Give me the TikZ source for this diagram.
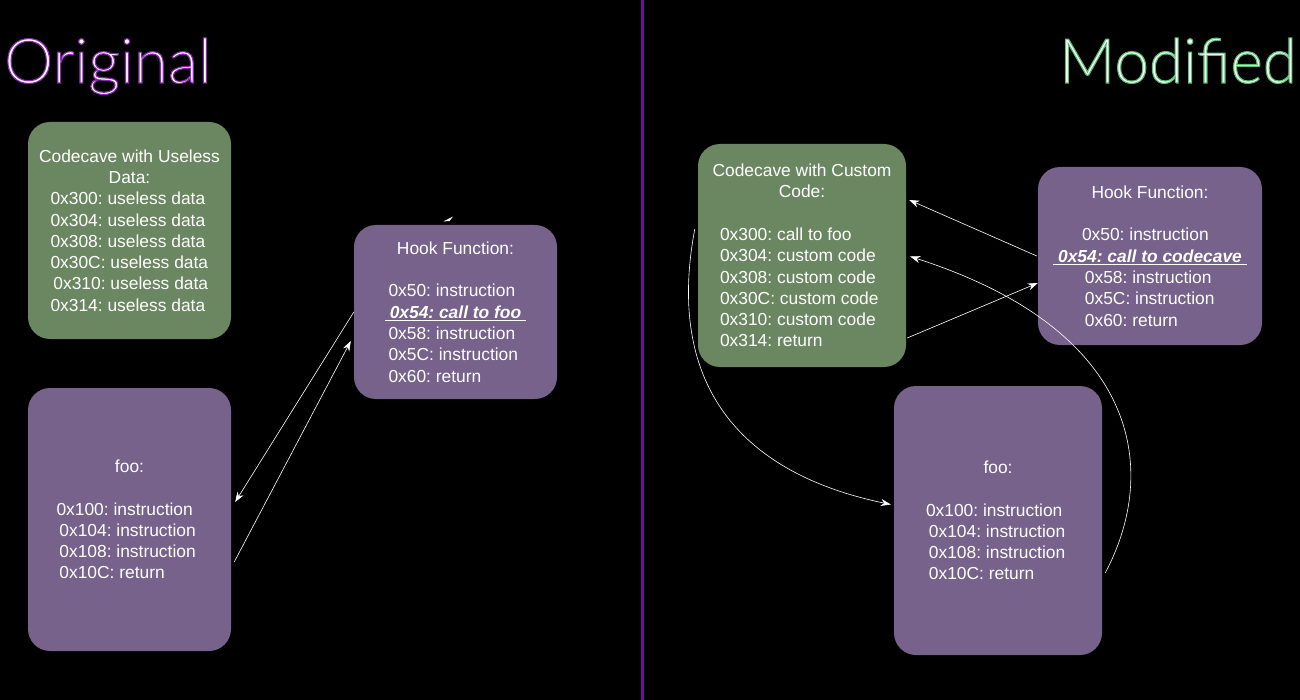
\documentclass[tikz,border=0pt]{standalone}
\usepackage{fontspec}
\setmainfont{Liberation Sans}
\newfontfamily\titlefont{Lato Light}
\usetikzlibrary{arrows.meta,calc}
\definecolor{cavegreen}{RGB}{107,135,98}
\definecolor{fnpurple}{RGB}{118,98,138}
\definecolor{divpurple}{RGB}{108,16,148}
\frenchspacing
\newcommand\Ln[2]{\makebox[#1][l]{#2}}
\newcommand\Hl[1]{\underline{\textbf{\textit{\ #1\ }}}}
\newcommand\outl[2]{\special{pdf:literal direct #1 RG 1.1 w 2 Tr}#2\special{pdf:literal direct 0 Tr}}
\tikzset{
  memblock/.style={rounded corners=22pt, text=white, align=center, inner sep=0pt,
    font=\fontsize{17.4}{21.3}\selectfont},
  cave/.style={memblock, fill=cavegreen},
  func/.style={memblock, fill=fnpurple},
  link/.style={draw=white, line width=0.6pt, -{Stealth[length=10pt,width=7pt]}},
  title/.style={inner sep=0pt, text=white, font=\titlefont\fontsize{62}{62}\selectfont}
}
\begin{document}
\begin{tikzpicture}[x=1pt,y=-1pt]
\fill[black] (0,0) rectangle (1300,700);
\useasboundingbox (0,0) rectangle (1300,700);
\fill[divpurple] (640.5,0) rectangle (643.5,700);

% titles
\node[title, anchor=base west] (t1) at (4,83) {\outl{0.55 0.15 0.7}{Original}};
\node[title, anchor=base east] (t2) at (1297,83) {\outl{0.35 0.75 0.45}{Modified}};

% ---------- Original ----------
\node[cave, minimum width=203pt, minimum height=217pt] (gL) at (129.5,230.5)
  {Codecave with Useless\\Data:\\
   \Ln{158pt}{0x300: useless data}\\
   \Ln{158pt}{0x304: useless data}\\
   \Ln{158pt}{0x308: useless data}\\
   \Ln{158pt}{0x30C: useless data}\\
   \Ln{158pt}{\,0x310: useless data}\\
   \Ln{158pt}{0x314: useless data}};

\node[func, minimum width=203pt, minimum height=174pt] (hL) at (455.5,312)
  {Hook Function:\\[21.3pt]
   \Ln{134pt}{0x50: instruction}\\
   \Hl{0x54: call to foo}\\
   \Ln{134pt}{0x58: instruction}\\
   \Ln{134pt}{0x5C: instruction}\\
   \Ln{134pt}{0x60: return}};

\node[func, minimum width=203pt, minimum height=263pt] (fL) at (129.5,519.5)
  {foo:\\[21.3pt]
   \Ln{146pt}{0x100: instruction}\\
   \Ln{146pt}{\,0x104: instruction}\\
   \Ln{146pt}{\,0x108: instruction}\\
   \Ln{146pt}{\,0x10C: return}};

\draw[link] (hL.west) -- ([xshift=4pt,yshift=17.5pt]fL.east);
\draw[link] ([xshift=3pt,yshift=-42.5pt]fL.east) -- ([xshift=-3pt,yshift=-29pt]hL.west);
\coordinate (strayA) at (443,221.5);
\coordinate (strayB) at (453,216.5);
\fill[white] (strayA) -- (strayB) -- (449.5,221) -- cycle;

% ---------- Modified ----------
\node[cave, minimum width=208pt, minimum height=223pt] (gR) at (802,255.5)
  {Codecave with Custom\\Code:\\[21.3pt]
   \Ln{164pt}{0x300: call to foo}\\
   \Ln{164pt}{0x304: custom code}\\
   \Ln{164pt}{0x308: custom code}\\
   \Ln{164pt}{0x30C: custom code}\\
   \Ln{164pt}{0x310: custom code}\\
   \Ln{164pt}{0x314: return}};

\node[func, minimum width=224pt, minimum height=178pt] (hR) at (1150,256)
  {Hook Function:\\[21.3pt]
   \Ln{136pt}{0x50: instruction}\\
   \Hl{0x54: call to codecave}\\
   \Ln{136pt}{\,0x58: instruction}\\
   \Ln{136pt}{\,0x5C: instruction}\\
   \Ln{136pt}{\,0x60: return}};

\node[func, minimum width=208pt, minimum height=269pt] (fR) at (998,520.5)
  {foo:\\[21.3pt]
   \Ln{144pt}{0x100: instruction}\\
   \Ln{144pt}{\,0x104: instruction}\\
   \Ln{144pt}{\,0x108: instruction}\\
   \Ln{144pt}{\,0x10C: return}};

\draw[link] ([xshift=-1pt]hR.west) -- ([xshift=3pt,yshift=55.5pt]gR.east);
\draw[link] ([xshift=1pt,yshift=-82.5pt]gR.east) -- ([yshift=-27pt]hR.west);
\draw[link] ([xshift=3pt,yshift=-52.5pt]fR.east) .. controls (1160,470) and (1140,330) .. ([xshift=4pt,yshift=-1pt]gR.east);
\draw[link] ([xshift=-3pt,yshift=26.5pt]gR.west) .. controls (668,370) and (725,470) .. ([xshift=-3pt,yshift=16pt]fR.west);
\end{tikzpicture}
\end{document}
